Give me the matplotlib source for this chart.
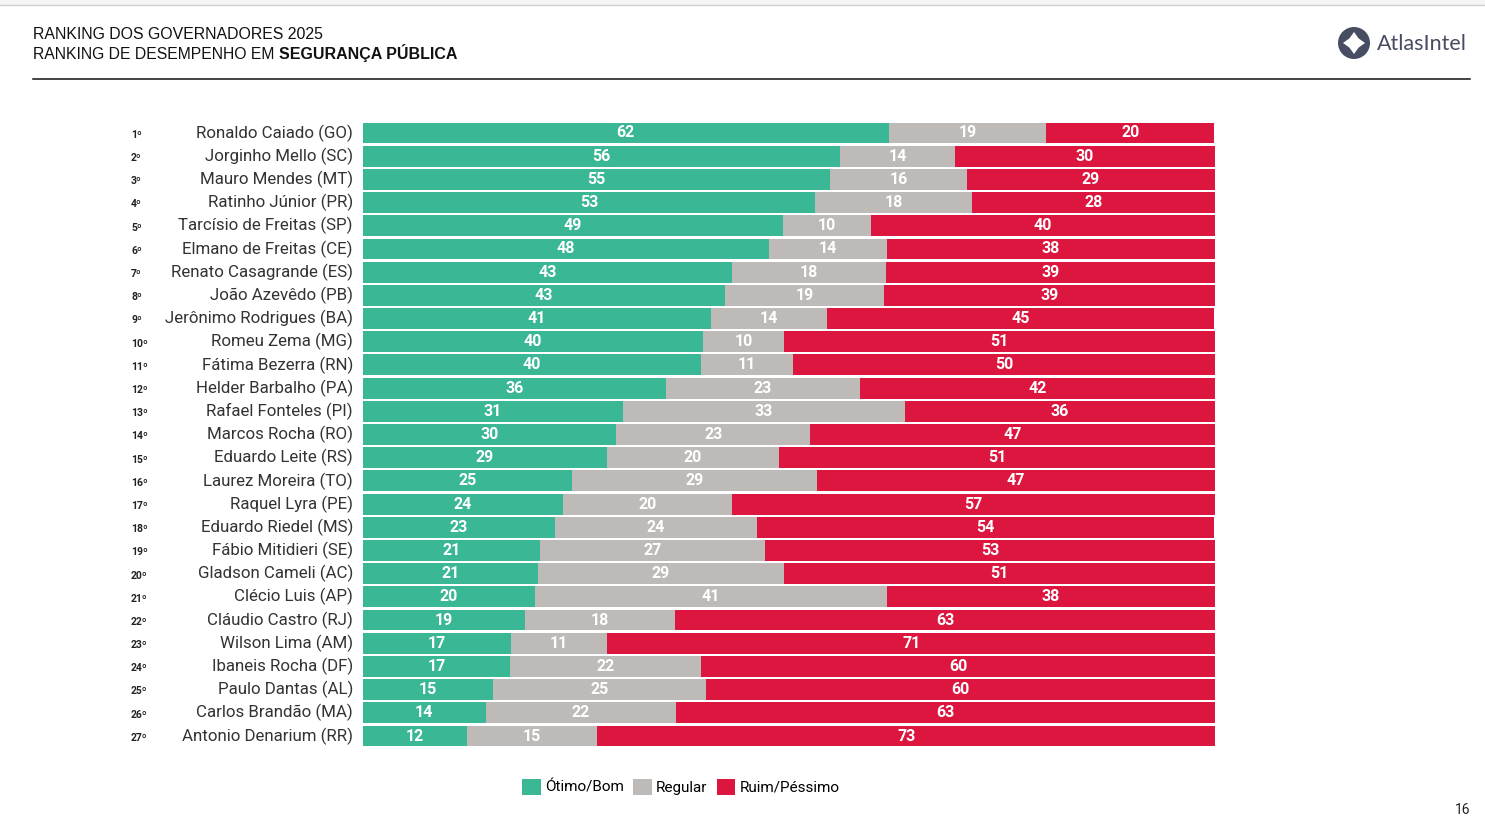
import matplotlib
matplotlib.use('Agg')
import matplotlib.pyplot as plt
from matplotlib.patches import Patch, Circle, Polygon, Rectangle
from matplotlib.lines import Line2D
import matplotlib.transforms as mtransforms

names = ['Ronaldo Caiado (GO)', 'Jorginho Mello (SC)', 'Mauro Mendes (MT)', 'Ratinho Júnior (PR)',
         'Tarcísio de Freitas (SP)', 'Elmano de Freitas (CE)', 'Renato Casagrande (ES)', 'João Azevêdo (PB)',
         'Jerônimo Rodrigues (BA)', 'Romeu Zema (MG)', 'Fátima Bezerra (RN)', 'Helder Barbalho (PA)',
         'Rafael Fonteles (PI)', 'Marcos Rocha (RO)', 'Eduardo Leite (RS)', 'Laurez Moreira (TO)',
         'Raquel Lyra (PE)', 'Eduardo Riedel (MS)', 'Fábio Mitidieri (SE)', 'Gladson Cameli (AC)',
         'Clécio Luis (AP)', 'Cláudio Castro (RJ)', 'Wilson Lima (AM)', 'Ibaneis Rocha (DF)',
         'Paulo Dantas (AL)', 'Carlos Brandão (MA)', 'Antonio Denarium (RR)']
ranks = [f'{i}º' for i in range(1, 28)]

# shares (unrounded)
good = [61.7, 56.0, 54.8, 53.1, 49.3, 47.7, 43.3, 42.5, 40.8, 39.9, 39.7, 35.6, 30.5, 29.7,
        28.6, 24.5, 23.5, 22.5, 20.8, 20.5, 20.2, 19.0, 17.4, 17.3, 15.3, 14.4, 12.2]
regular = [18.5, 13.5, 16.1, 18.4, 10.3, 13.8, 18.1, 18.7, 13.7, 9.5, 10.8, 22.7, 33.1, 22.8,
           20.2, 28.8, 19.8, 23.8, 26.4, 28.9, 41.3, 17.6, 11.2, 22.4, 24.9, 22.3, 15.3]
bad = [19.7, 30.5, 29.1, 28.5, 40.4, 38.5, 38.6, 38.8, 45.4, 50.6, 49.5, 41.8, 36.4, 47.5,
       51.2, 46.7, 56.7, 53.6, 52.8, 50.6, 38.5, 63.4, 71.5, 60.3, 59.9, 63.3, 72.5]

# printed labels
good_lbl = [62, 56, 55, 53, 49, 48, 43, 43, 41, 40, 40, 36, 31, 30, 29, 25, 24, 23, 21, 21, 20, 19, 17, 17, 15, 14, 12]
regular_lbl = [19, 14, 16, 18, 10, 14, 18, 19, 14, 10, 11, 23, 33, 23, 20, 29, 20, 24, 27, 29, 41, 18, 11, 22, 25, 22, 15]
bad_lbl = [20, 30, 29, 28, 40, 38, 39, 39, 45, 51, 50, 42, 36, 47, 51, 47, 57, 54, 53, 51, 38, 63, 71, 60, 60, 63, 73]

GREEN = '#3AB795'
GRAY = '#BEBAB7'
RED = '#DC163F'

W, H = 1485, 834
fig = plt.figure(figsize=(W / 100, H / 100), dpi=100)
fig.patch.set_facecolor('white')

def fx(px):
    return px / W

def fy(py):
    return 1 - py / H

# top strip
fig.patches.append(Rectangle((0, fy(5)), 1, 5 / H, transform=fig.transFigure,
                             facecolor='#F4F4F4', edgecolor='none'))
fig.add_artist(Line2D([0, 1], [fy(5), fy(5)], color='#D0D0D0', lw=1))

ax = fig.add_axes([fx(363), fy(747.6), fx(852), (747.6 - 121.4) / H])

y = list(range(len(names)))
left2 = [g for g in good]
left3 = [g + r for g, r in zip(good, regular)]
bh = 0.9
ax.barh(y, good, height=bh, color=GREEN)
ax.barh(y, regular, left=left2, height=bh, color=GRAY)
ax.barh(y, bad, left=left3, height=bh, color=RED)

lbl_kw = dict(ha='center', va='center', color='white', fontsize=11.5,
              fontweight='bold', family='Roboto')
for i in y:
    ax.text(good[i] / 2, i, str(good_lbl[i]), **lbl_kw)
    ax.text(left2[i] + regular[i] / 2, i, str(regular_lbl[i]), **lbl_kw)
    ax.text(left3[i] + bad[i] / 2, i, str(bad_lbl[i]), **lbl_kw)

ax.set_xlim(0, 100)
ax.set_ylim(len(names) - 0.5, -0.5)
ax.axis('off')

tr = ax.get_yaxis_transform()
for i in y:
    ax.text(-10 / 852, i, names[i], transform=tr, ha='right', va='center',
            fontsize=12.2, family='Roboto', color='#333333')
    ax.text(-232 / 852, i + 0.08, ranks[i], transform=tr, ha='left', va='center',
            fontsize=7.5, fontweight='bold', family='Roboto', color='#222222')

# header
fig.text(fx(33), fy(39), 'RANKING DOS GOVERNADORES 2025', fontsize=11.4,
         family='Liberation Sans', color='#111111', va='baseline', ha='left')
t1 = fig.text(fx(33), fy(59), 'RANKING DE DESEMPENHO EM ', fontsize=11.3,
              family='Liberation Sans', color='#111111', va='baseline', ha='left')
fig.canvas.draw()
bb = t1.get_window_extent(renderer=fig.canvas.get_renderer())
fig.text(bb.x1 / W, fy(59), 'SEGURANÇA PÚBLICA', fontsize=11.5, fontweight='bold',
         family='Liberation Sans', color='#111111', va='baseline', ha='left')
fig.add_artist(Line2D([fx(33), fx(1470)], [fy(79), fy(79)], color='#111111', lw=1.1))

# logo
cx, cy, rr = 1354, 43, 16
to_px = mtransforms.Affine2D().translate(cx, H - cy)
fig.patches.append(Circle((0, 0), rr, transform=to_px,
                          facecolor='#474D62', edgecolor='none'))
s = 11
k = 4.6
star = [(0, s), (k, k), (s, 0), (k, -k), (0, -s), (-k, -k), (-s, 0), (-k, k)]
fig.patches.append(Polygon(star, closed=True, transform=to_px,
                           facecolor='white', edgecolor='none'))
fig.text(fx(1377), fy(44), 'AtlasIntel', fontsize=15.5, family='Lato', color='#474D62',
         va='center', ha='left')

# legend
handles = [Patch(facecolor=GREEN, label='Ótimo/Bom'),
           Patch(facecolor=GRAY, label='Regular'),
           Patch(facecolor=RED, label='Ruim/Péssimo')]
fig.legend(handles=handles, loc='center', bbox_to_anchor=(fx(681), fy(787)), ncol=3,
           frameon=False, prop={'family': 'Roboto', 'size': 11}, handlelength=1.2,
           handleheight=1.2, handletextpad=0.3, columnspacing=0.6)

fig.text(fx(1470), fy(810), '16', fontsize=10, family='Roboto', color='#222222',
         ha='right', va='center')

fig.savefig('out.png', dpi=100)
